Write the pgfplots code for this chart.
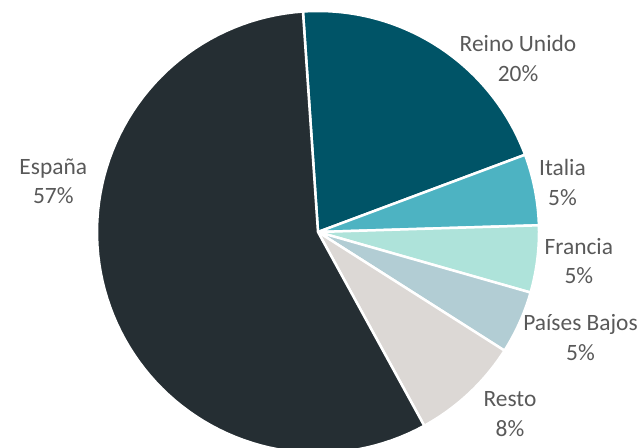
\documentclass[border=0pt]{standalone}
\usepackage{pgfplots}
\pgfplotsset{compat=1.18}
\usepackage{fontspec}
\setmainfont{Carlito}
\definecolor{cEsp}{HTML}{252E33}
\definecolor{cRU}{HTML}{005467}
\definecolor{cIt}{HTML}{4DB3C2}
\definecolor{cFr}{HTML}{AEE3DA}
\definecolor{cPB}{HTML}{B2CDD4}
\definecolor{cRe}{HTML}{DCD8D5}
\definecolor{labgray}{HTML}{595959}
\newcommand\cum{0}
\newcommand\pieslice[2]{%
  \pgfmathsetmacro\sa{\cum*3.6-3.9}%
  \pgfmathsetmacro\sb{(\cum+#1)*3.6-3.9}%
  \edef\temp{\noexpand\addplot[fill=#2, draw=white, line width=2.5bp, domain=\sa:\sb, samples=90, variable=\noexpand\t] ({318+221*sin(\noexpand\t)},{216+221*cos(\noexpand\t)}) -- (axis cs:318,216) -- cycle;}%
  \temp
  \pgfmathsetmacro\cc{\cum+#1}\xdef\cum{\cc}}
\newcommand\lab[4]{%
  \node[anchor=base, font=\fontsize{23.5}{29}\selectfont, text=labgray] at (axis cs:#1,#2) {#3};
  \node[anchor=base, font=\fontsize{23.5}{29}\selectfont, text=labgray] at (axis cs:#1,#2-29.5) {#4};}
\begin{document}
\begin{tikzpicture}
\begin{axis}[
  width=644bp, height=448bp, scale only axis,
  xmin=0, xmax=644, ymin=0, ymax=448,
  hide axis, clip=true]
% shares in percent: Reino Unido, Italia, Francia, Paises Bajos, Resto, Espana
\pieslice{20.4}{cRU}
\pieslice{5.2}{cIt}
\pieslice{4.9}{cFr}
\pieslice{4.6}{cPB}
\pieslice{8.0}{cRe}
\pieslice{56.9}{cEsp}
\lab{518}{396.3}{Reino Unido}{20\%}
\lab{562.5}{272.3}{Italia}{5\%}
\lab{578.8}{193.7}{Francia}{5\%}
\lab{580.5}{117.3}{Países Bajos}{5\%}
\lab{510}{41.3}{Resto}{8\%}
\lab{53.3}{273.7}{España}{57\%}
\end{axis}
\pgfresetboundingbox
\useasboundingbox (0,0) rectangle (644bp,448bp);
\end{tikzpicture}
\end{document}
